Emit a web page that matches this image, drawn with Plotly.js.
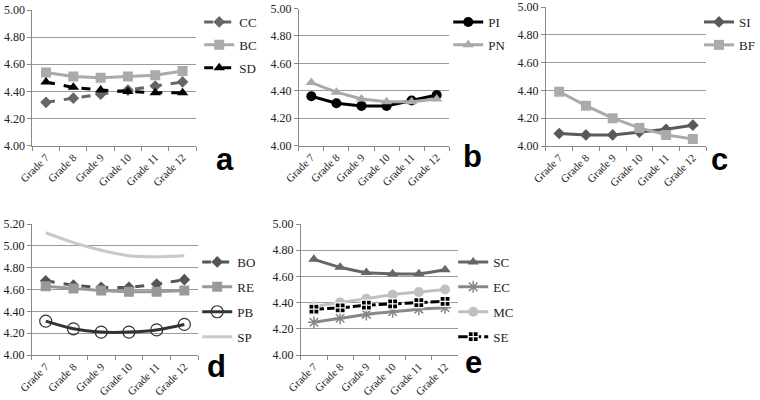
<!DOCTYPE html>
<html>
<head>
<meta charset="utf-8">
<script src="https://cdn.plot.ly/plotly-3.0.1.min.js"></script>
<style>html,body{margin:0;padding:0;background:#fff;}#chart{width:760px;height:400px;}</style>
</head>
<body>
<div id="chart"></div>
<script>
const grades = ['Grade 7', 'Grade 8', 'Grade 9', 'Grade 10', 'Grade 11', 'Grade 12'];
const yTicksTop = [4.0, 4.2, 4.4, 4.6, 4.8, 5.0];
const yTicksD = [4.0, 4.2, 4.4, 4.6, 4.8, 5.0, 5.2];

// Panel a
const CC = [4.32, 4.35, 4.38, 4.41, 4.44, 4.47];
const BC = [4.54, 4.51, 4.50, 4.51, 4.52, 4.55];
const SD = [4.47, 4.43, 4.41, 4.40, 4.39, 4.39];
// Panel b
const PI = [4.36, 4.31, 4.29, 4.29, 4.33, 4.37];
const PN = [4.46, 4.39, 4.34, 4.32, 4.32, 4.34];
// Panel c
const SI = [4.09, 4.08, 4.08, 4.10, 4.12, 4.15];
const BF = [4.39, 4.29, 4.20, 4.13, 4.08, 4.05];
// Panel d
const BO = [4.68, 4.64, 4.62, 4.62, 4.65, 4.69];
const RE = [4.63, 4.61, 4.59, 4.58, 4.58, 4.59];
const PB = [4.31, 4.24, 4.21, 4.21, 4.23, 4.28];
const SP = [5.12, 5.03, 4.96, 4.91, 4.90, 4.91];
// Panel e
const SC = [4.73, 4.67, 4.63, 4.62, 4.62, 4.65];
const EC = [4.25, 4.28, 4.31, 4.33, 4.35, 4.36];
const MC = [4.37, 4.40, 4.43, 4.46, 4.48, 4.50];
const SE = [4.35, 4.36, 4.38, 4.39, 4.40, 4.41];

const W = 760, H = 400;
const px = v => v / W;
const py = v => 1 - v / H;

function tr(name, y, ax, lg, color, dash, symbol, msize, shape, mline) {
  const t = {
    type: 'scatter', x: grades, y: y, name: name,
    xaxis: 'x' + ax, yaxis: 'y' + ax, legend: lg, legendgroup: name,
    mode: symbol ? 'lines+markers' : 'lines',
    line: {color: color, width: 3, dash: dash, shape: shape || 'linear', smoothing: 0.8},
    hoverinfo: 'skip'
  };
  if (symbol) t.marker = {symbol: symbol, size: msize, color: color, line: mline || {width: 0}};
  return t;
}

const data = [
  tr('CC', CC, '', 'legend', '#666666', 'dash', 'diamond', 9),
  tr('BC', BC, '', 'legend', '#aaaaaa', 'solid', 'square', 10),
  tr('SD', SD, '', 'legend', '#000000', 'dash', 'triangle-up', 10),
  tr('PI', PI, '2', 'legend2', '#000000', 'solid', 'circle', 10),
  tr('PN', PN, '2', 'legend2', '#aaaaaa', 'solid', 'triangle-up', 10),
  tr('SI', SI, '3', 'legend3', '#5a5a5a', 'solid', 'diamond', 9),
  tr('BF', BF, '3', 'legend3', '#aaaaaa', 'solid', 'square', 10),
  tr('BO', BO, '4', 'legend4', '#555555', 'dash', 'diamond', 9, 'spline'),
  tr('RE', RE, '4', 'legend4', '#999999', 'solid', 'square', 10, 'spline'),
  tr('PB', PB, '4', 'legend4', '#333333', 'solid', 'circle-open', 12, 'spline', {width: 1.2, color: '#333333'}),
  tr('SP', SP, '4', 'legend4', '#c8c8c8', 'solid', null, 0, 'spline'),
  tr('SC', SC, '5', 'legend5', '#666666', 'solid', 'triangle-up', 10, 'spline'),
  tr('EC', EC, '5', 'legend5', '#888888', 'solid', 'asterisk-open', 10, 'spline', {width: 1.5, color: '#888888'}),
  tr('MC', MC, '5', 'legend5', '#c0c0c0', 'solid', 'circle', 10, 'spline'),
  tr('SE', SE, '5', 'legend5', '#000000', '10px,3px', 'square-cross', 10, 'spline', {width: 1.2, color: '#ffffff'})
];

const SERIF = '"Liberation Serif", "Times New Roman", serif';
const xTickFont = {family: SERIF, size: 11, color: '#222'};
const yTickFont = {family: SERIF, size: 12, color: '#222'};
function xax(x0, x1, anchor) {
  return {
    domain: [px(x0), px(x1)], anchor: anchor, type: 'category', range: [-0.5, 5.5],
    tickson: 'boundaries', ticks: 'outside', ticklen: 4, tickcolor: '#888', tickwidth: 1,
    showline: true, linecolor: '#888', linewidth: 1, showgrid: false, tickangle: -45,
    tickfont: xTickFont, fixedrange: true
  };
}
function yax(y0, y1, anchor, ticks, top) {
  return {
    domain: [py(y1), py(y0)], anchor: anchor, range: [4.0, top],
    tickvals: ticks, ticktext: ticks.map(v => v.toFixed(2)),
    ticks: 'outside', ticklen: 4, tickcolor: '#888', showline: true, linecolor: '#888', linewidth: 1,
    showgrid: true, gridcolor: '#9a9a9a', gridwidth: 1, zeroline: false,
    tickfont: yTickFont, fixedrange: true
  };
}
function leg(x, y, gap) {
  return {
    x: px(x), y: py(y), xanchor: 'left', yanchor: 'top', xref: 'paper', yref: 'paper',
    bgcolor: 'rgba(0,0,0,0)', borderwidth: 0, traceorder: 'grouped', tracegroupgap: gap,
    font: {family: SERIF, size: 13, color: '#222'}, itemwidth: 30
  };
}

const letterFont = {family: '"Liberation Sans", Arial, sans-serif', size: 31, color: '#000', weight: 'bold'};
function letter(t, x, y) {
  return {text: t, x: px(x), y: py(y), xref: 'paper', yref: 'paper', showarrow: false,
    xanchor: 'center', yanchor: 'middle', font: letterFont};
}

const layout = {
  width: W, height: H, margin: {l: 0, r: 0, t: 0, b: 0},
  paper_bgcolor: '#fff', plot_bgcolor: '#fff', showlegend: true,
  xaxis: xax(32.5, 197, 'y'), yaxis: yax(10, 145.7, 'x', yTicksTop, 5.0),
  xaxis2: xax(300, 451, 'y2'), yaxis2: yax(8.5, 145.7, 'x2', yTicksTop, 5.0),
  xaxis3: xax(548, 709, 'y3'), yaxis3: yax(7, 146, 'x3', yTicksTop, 5.0),
  xaxis4: xax(32, 199, 'y4'), yaxis4: yax(224, 355, 'x4', yTicksD, 5.2),
  xaxis5: xax(302, 460, 'y5'), yaxis5: yax(224, 355, 'x5', yTicksTop, 5.0),
  legend: leg(200, 7, 3),
  legend2: leg(450, 7, 3),
  legend3: leg(702, 7, 3),
  legend4: leg(198, 247, 5),
  legend5: leg(455, 247, 5),
  annotations: [
    letter('a', 226, 159), letter('b', 474, 156), letter('c', 722, 159),
    letter('d', 217, 366), letter('e', 475, 362)
  ]
};

Plotly.newPlot('chart', data, layout, {staticPlot: true, displayModeBar: false});
</script>
</body>
</html>
